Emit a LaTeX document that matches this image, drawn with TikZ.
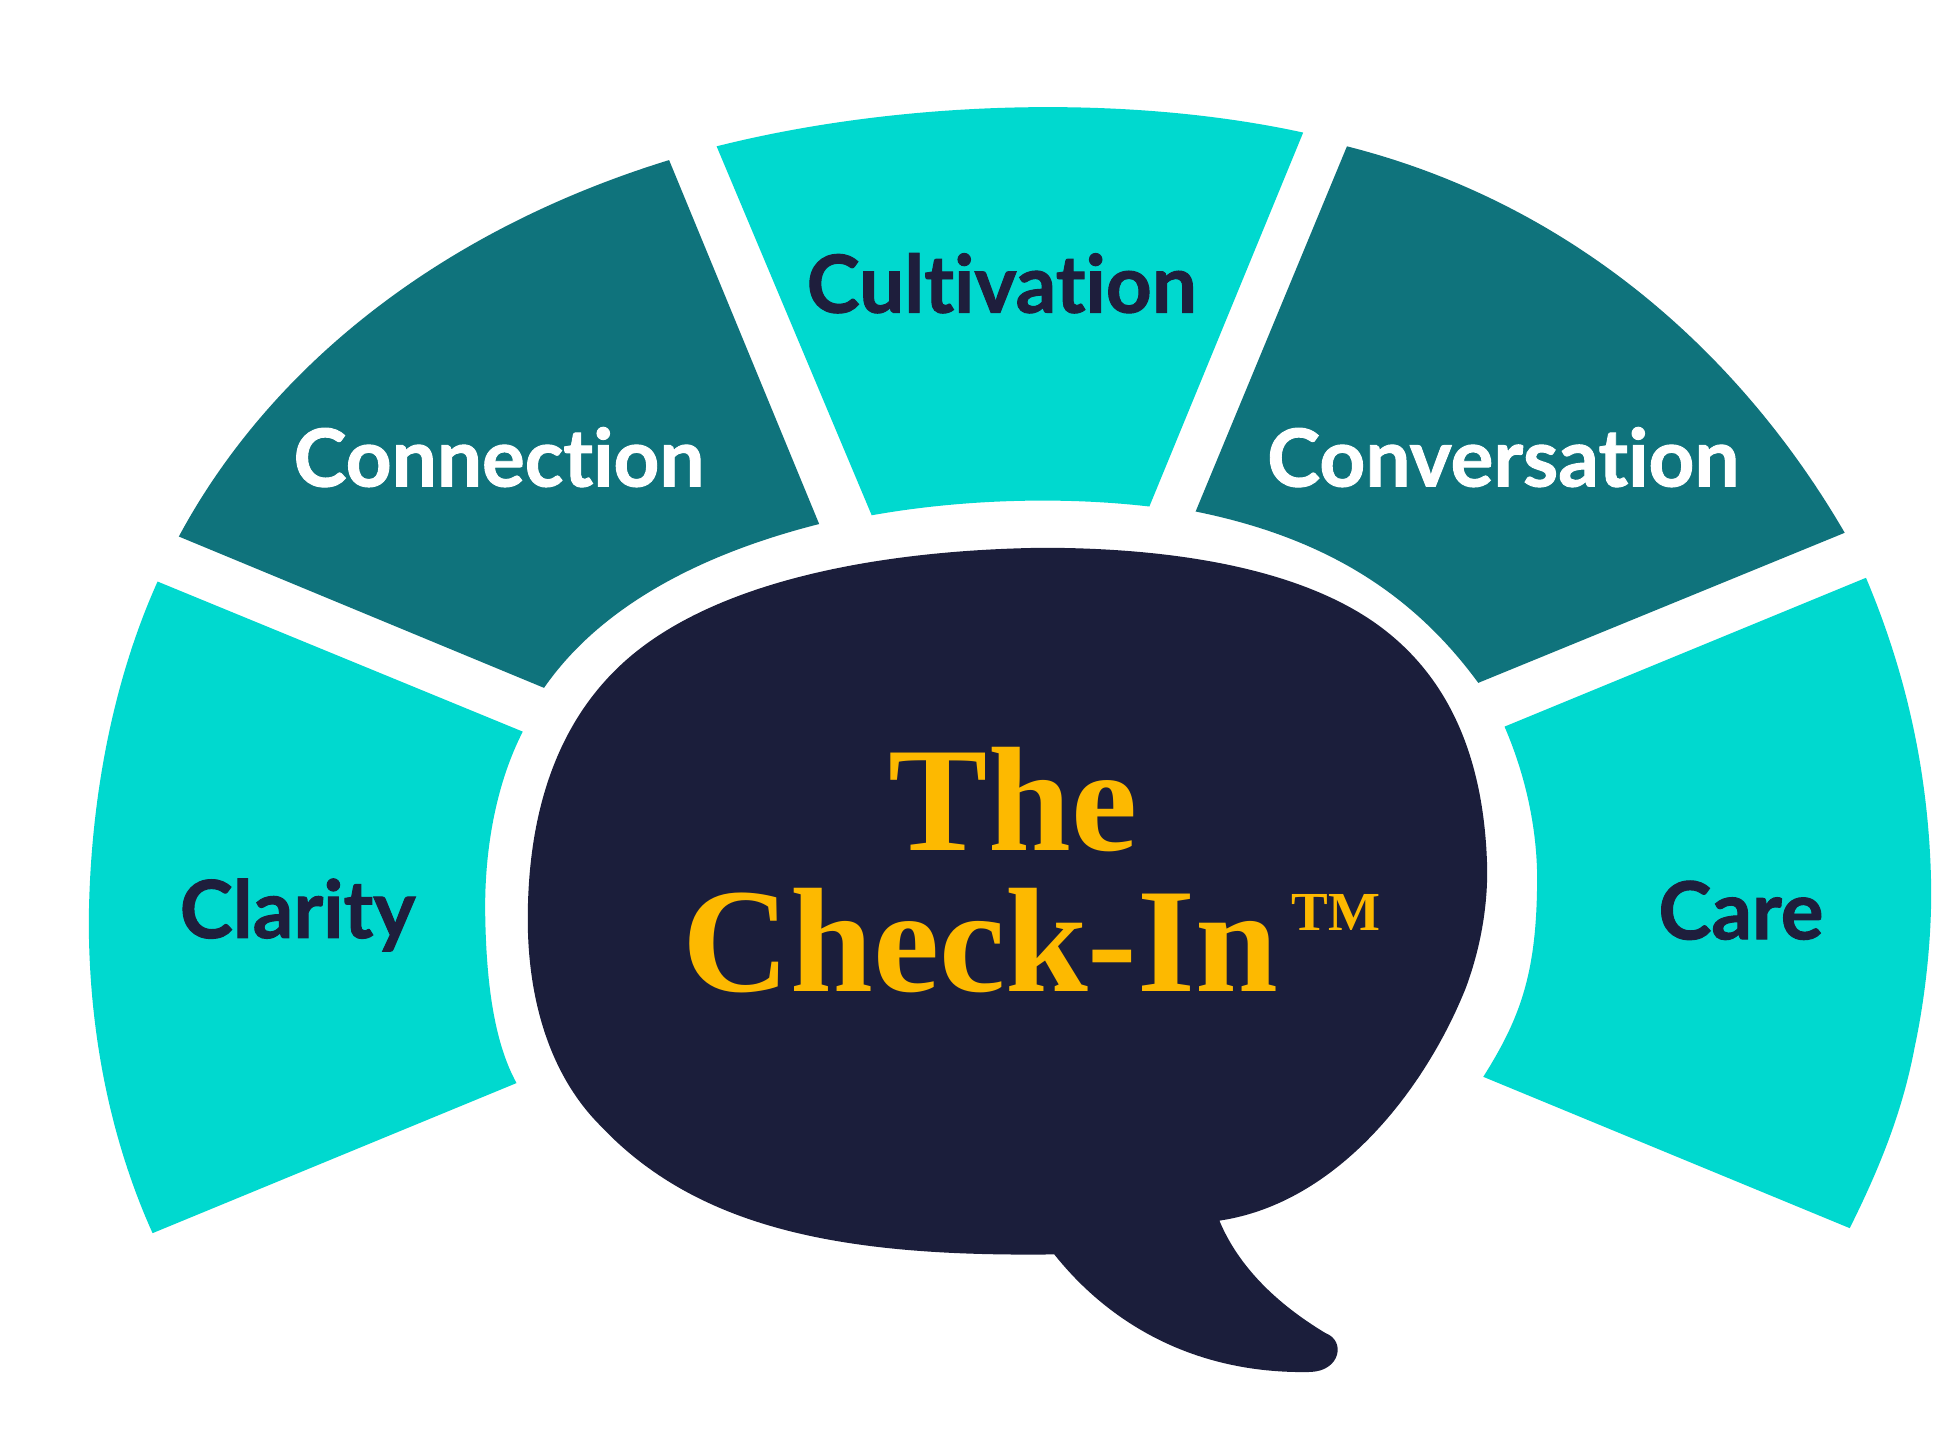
\documentclass[tikz,border=0pt]{standalone}
\usepackage{fontspec}
\newfontfamily\labelfont{Lato}[Ligatures=NoCommon,BoldFeatures={FakeBold=1.2}]
\newfontfamily\titlefont{Liberation Serif}
\definecolor{segcyan}{RGB}{0,217,207}
\definecolor{segteal}{RGB}{15,115,124}
\definecolor{bubblenavy}{RGB}{27,30,59}
\definecolor{labeldark}{RGB}{30,30,60}
\definecolor{titlegold}{RGB}{253,185,0}
\tikzset{
  lightseg/.style={fill=segcyan},
  darkseg/.style={fill=segteal},
  bubble/.style={fill=bubblenavy},
  seglabel/.style={anchor=base,inner sep=0pt,font=\labelfont\bfseries\fontsize{64}{76}\selectfont},
  titletext/.style={anchor=base,inner sep=0pt,text=titlegold,font=\titlefont\bfseries\fontsize{119}{140}\selectfont},
  tmtext/.style={anchor=base,inner sep=0pt,text=titlegold,font=\titlefont\bfseries\fontsize{44}{50}\selectfont}
}
\begin{document}
\begin{tikzpicture}[x=1pt,y=-1pt]
\useasboundingbox (0,0) rectangle (1560,1151);
\fill[white] (0,0) rectangle (1560,1151);
% Clarity
\path[lightseg] (126,465) -- (418,585)
  .. controls (395,630) and (387,685) .. (388,733)
  .. controls (389,790) and (396,835) .. (413,866)
  -- (122,986)
  .. controls (90,915) and (71,830) .. (71,736)
  .. controls (72,640) and (90,545) .. (126,465) -- cycle;
% Connection
\path[darkseg] (143,429)
  .. controls (215,295) and (350,185) .. (535,128)
  -- (655,419)
  .. controls (560,443) and (480,485) .. (435,550) -- cycle;
% Cultivation
\path[lightseg] (573,117)
  .. controls (720,80) and (900,75) .. (1042,106)
  -- (919,405)
  .. controls (850,397) and (770,399) .. (697,412) -- cycle;
% Conversation
\path[darkseg] (1077,117)
  .. controls (1255,162) and (1390,280) .. (1475,426)
  -- (1182,546)
  .. controls (1130,475) and (1060,430) .. (956,409) -- cycle;
% Care
\path[lightseg] (1492,462) -- (1203,581)
  .. controls (1222,625) and (1230,670) .. (1229,710)
  .. controls (1228,780) and (1215,815) .. (1186,861)
  -- (1479,982)
  .. controls (1505,930) and (1522,885) .. (1531,837)
  .. controls (1541,790) and (1545,740) .. (1544,703)
  .. controls (1542,620) and (1525,540) .. (1492,462) -- cycle;
% Speech bubble
\path[bubble] (975,976)
  .. controls (1070,962) and (1140,870) .. (1172,790)
  .. controls (1185,755) and (1190,720) .. (1189,690)
  .. controls (1186,600) and (1155,535) .. (1095,495)
  .. controls (1030,452) and (930,438) .. (833,438)
  .. controls (700,440) and (580,465) .. (510,520)
  .. controls (440,575) and (422,660) .. (422,735)
  .. controls (422,800) and (440,860) .. (480,900)
  .. controls (560,985) and (680,1005) .. (843,1003)
  .. controls (890,1062) and (960,1099) .. (1048,1097)
  .. controls (1072,1096) and (1076,1072) .. (1060,1066)
  .. controls (1020,1042) and (990,1012) .. (975,976) -- cycle;
% Labels
\node[seglabel,text=labeldark] (clarity) at (238,750) {Clarity};
\node[seglabel,text=white] (connection) at (399,389) {Connection};
\node[seglabel,text=labeldark] (cultivation) at (801,250) {Cultivation};
\node[seglabel,text=white] (conversation) at (1202,389) {Conversation};
\node[seglabel,text=labeldark] (care) at (1392,751) {Care};
% Title
\node[titletext] (the) at (810,680) {The};
\node[titletext] (checkin) at (784,793) {Check-In};
\node[tmtext] (tm) at (1068,744) {TM};
\end{tikzpicture}
\end{document}
